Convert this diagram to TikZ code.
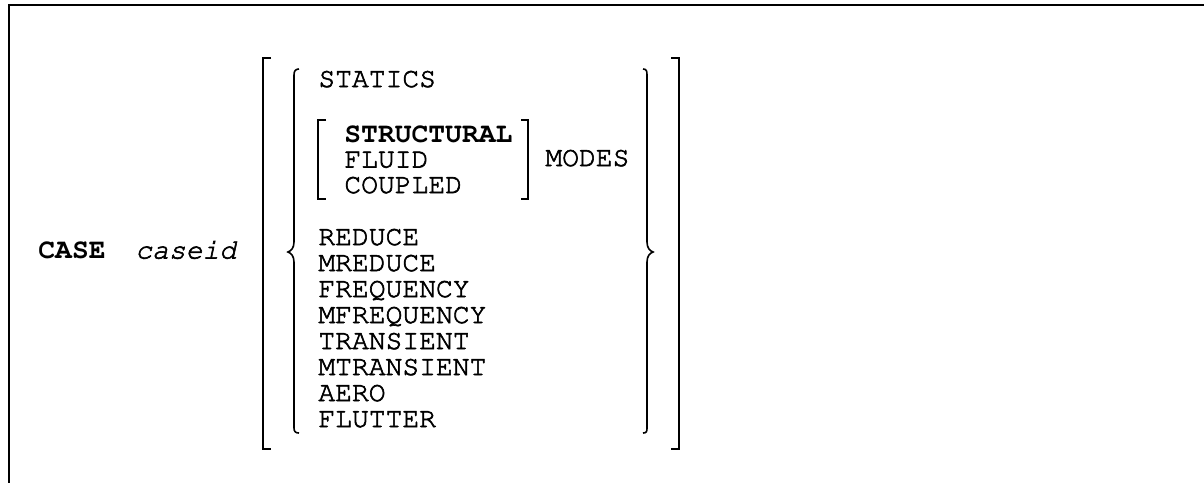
\documentclass[tikz,border=0pt]{standalone}
\usepackage[T1]{fontenc}
\usepackage{courier}
% slightly heavier glyph outlines: fill and stroke the text
\newcommand\inked[1]{\special{pdf:literal direct 2 Tr 0.3 w}#1\special{pdf:literal direct 0 Tr}}
\begin{document}
\begin{tikzpicture}[x={(0.5pt,0pt)}, y={(0pt,-0.5pt)},
  lbl/.style={anchor=base west, inner sep=0pt, font=\fontsize{14}{16}\selectfont\ttfamily},
  fence/.style={line width=1pt, line cap=butt, line join=miter},
  curly/.style={line width=0.8pt, line cap=butt},
  frameline/.style={line width=1pt}]
\useasboundingbox (0,0) rectangle (1204,483);

% frame edges (top and left)
\draw[frameline] (1204,5.3) -- (9,5.3) -- (9,483);

% command name and argument
\node[lbl] (kw) at (38,258.5) {\bfseries CASE};
\node[lbl] (arg) at (135,258.5) {\inked{\itshape caseid}};

% options
\node[lbl] (statics) at (318,87) {\inked{STATICS}};
\node[lbl] (struct) at (344,142) {\bfseries STRUCTURAL};
\node[lbl] (fluid) at (344,167.5) {\inked{FLUID}};
\node[lbl] (coupled) at (344,193) {\inked{COUPLED}};
\node[lbl] (modes) at (545,166) {\inked{MODES}};
\node[lbl] (reduce) at (318,245) {\inked{REDUCE}};
\node[lbl] (mreduce) at (318,271) {\inked{MREDUCE}};
\node[lbl] (freq) at (318,297) {\inked{FREQUENCY}};
\node[lbl] (mfreq) at (318,323) {\inked{MFREQUENCY}};
\node[lbl] (trans) at (318,349) {\inked{TRANSIENT}};
\node[lbl] (mtrans) at (318,375) {\inked{MTRANSIENT}};
\node[lbl] (aero) at (318,401) {\inked{AERO}};
\node[lbl] (flutter) at (318,427) {\inked{FLUTTER}};

% outer square brackets
\draw[fence] (271,58) -- (263,58) -- (263,449) -- (271,449);
\draw[fence] (671,58) -- (679,58) -- (679,449) -- (671,449);

% curly braces
\draw[curly] (299,69) .. controls (295.5,69) and (294,71) .. (294,75) -- (294,242)
  .. controls (294,248) and (291,251) .. (288,252)
  .. controls (291,253) and (294,256) .. (294,262) -- (294,428)
  .. controls (294,431.5) and (295.5,433) .. (299,433);
\draw[curly] (643,69) .. controls (646.5,69) and (647,71) .. (647,75) -- (647,242)
  .. controls (647,248) and (650,251) .. (653,252)
  .. controls (650,253) and (647,256) .. (647,262) -- (647,428)
  .. controls (647,431.5) and (646.5,433) .. (643,433);

% inner square brackets around the mode types
\draw[fence] (326,120) -- (318,120) -- (318,199) -- (326,199);
\draw[fence] (521,120) -- (528,120) -- (528,199) -- (521,199);
\end{tikzpicture}
\end{document}
